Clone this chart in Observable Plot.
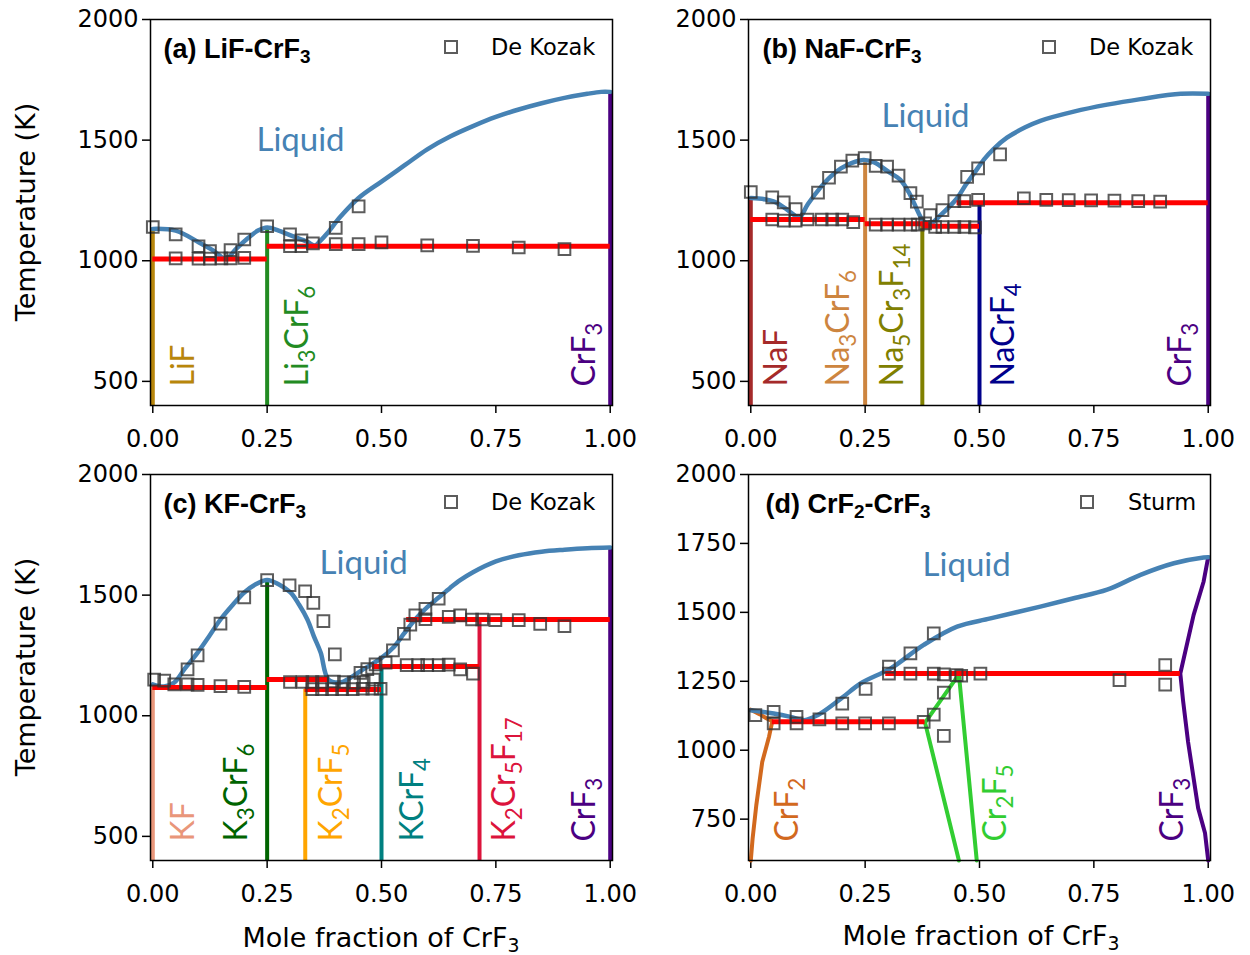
<!DOCTYPE html>
<html><head><meta charset="utf-8">
<script src="https://cdn.jsdelivr.net/npm/d3@7"></script>
<script src="https://cdn.jsdelivr.net/npm/@observablehq/plot@0.6"></script>
<style>
body{margin:0;background:#fff;}
#wrap{position:relative;width:1250px;height:955px;overflow:hidden;background:#fff;}
.panel{position:absolute;}
.panel svg{overflow:visible;background:transparent;}
.axlab{position:absolute;font-family:"DejaVu Sans";font-size:27px;color:#000;white-space:nowrap;transform:translate(-50%,-50%);}
.axlab.rot{transform:translate(-50%,-50%) rotate(-90deg);}
.axlab sub{font-size:70%;vertical-align:-0.3em;line-height:0;}
g[aria-label="x-axis tick"] path, g[aria-label="y-axis tick"] path{stroke-width:1.5;}
</style></head><body><div id="wrap"></div>
<script>
// ---------- shared ticks ----------
const xTicks = [0, 0.25, 0.5, 0.75, 1];
const yTicksABC = [500, 1000, 1500, 2000];
const yTicksD = [750, 1000, 1250, 1500, 1750, 2000];

// ---------- (a) LiF-CrF3 ----------
const liqA = [[0,1132],[0.05,1125],[0.1,1077],[0.13,1045],[0.16,1008],[0.18,1045],[0.207,1092],[0.23,1125],[0.25,1138],[0.275,1125],[0.3,1106],[0.338,1078],[0.355,1063],[0.365,1080],[0.381,1113],[0.41,1182],[0.45,1260],[0.5,1328],[0.55,1395],[0.6,1462],[0.65,1515],[0.7,1558],[0.75,1596],[0.8,1627],[0.85,1653],[0.9,1675],[0.95,1692],[0.98,1700],[1,1700]];
const solA = [[0,0.25,1007],[0.25,1,1060]];
const compNamesA = ["LiF","Li_3CrF_6","CrF_3"];
const compXA = [0, 0.25, 1];
const compTopA = [1132, 1138, 1700];
const expA = [[0,1140],[0.05,1109],[0.1,1060],[0.125,1040],[0.17,1044],[0.2,1088],[0.25,1143],[0.3,1109],[0.325,1085],[0.35,1072],[0.4,1136],[0.45,1225],
  [0.05,1010],[0.1,1009],[0.125,1009],[0.15,1010],[0.17,1010],[0.2,1012],[0.3,1060],[0.325,1060],[0.4,1069],[0.45,1069],[0.5,1076],[0.6,1064],[0.7,1062],[0.8,1055],[0.9,1048]];

// ---------- (b) NaF-CrF3 ----------
const liqB = [[0,1260],[0.03,1255],[0.051,1245],[0.075,1218],[0.095,1189],[0.105,1176],[0.125,1235],[0.153,1305],[0.175,1350],[0.197,1383],[0.22,1405],[0.247,1418],[0.27,1408],[0.3,1370],[0.327,1335],[0.345,1285],[0.357,1238],[0.378,1162],[0.39,1150],[0.415,1189],[0.451,1259],[0.47,1315],[0.488,1362],[0.51,1420],[0.53,1462],[0.56,1510],[0.6,1553],[0.633,1580],[0.706,1618],[0.779,1647],[0.852,1670],[0.94,1692],[1,1692]];
const solB = [[0,0.25,1171],[0.25,0.39,1153],[0.375,0.5,1143],[0.451,1,1240]];
const compNamesB = ["NaF","Na_3CrF_6","Na_5Cr_3F_14","NaCrF_4","CrF_3"];
const compXB = [0, 0.25, 0.375, 0.5, 1];
const compTopB = [1260, 1418, 1150, 1240, 1692];
const expB = [[0,1285],[0.047,1263],[0.072,1242],[0.098,1214],[0.147,1282],[0.171,1344],[0.197,1390],[0.222,1415],[0.249,1425],[0.273,1393],[0.298,1390],[0.323,1353],[0.349,1280],[0.363,1245],[0.392,1189],[0.419,1210],[0.445,1247],[0.467,1247],[0.473,1348],[0.497,1383],[0.497,1252],[0.545,1441],
  [0.047,1171],[0.072,1166],[0.098,1166],[0.124,1171],[0.155,1171],[0.178,1171],[0.2,1171],[0.224,1160],[0.273,1150],[0.298,1150],[0.323,1150],[0.349,1150],[0.365,1150],[0.381,1155],[0.403,1140],[0.419,1140],[0.445,1140],[0.467,1140],[0.49,1138],
  [0.597,1259],[0.646,1252],[0.695,1251],[0.744,1250],[0.795,1249],[0.847,1247],[0.895,1245]];

// ---------- (c) KF-CrF3 ----------
const liqC = [[0,1130],[0.025,1121],[0.047,1138],[0.07,1195],[0.098,1262],[0.125,1335],[0.148,1399],[0.175,1460],[0.2,1511],[0.225,1545],[0.25,1563],[0.275,1545],[0.301,1511],[0.32,1460],[0.338,1399],[0.352,1330],[0.367,1262],[0.384,1150],[0.41,1138],[0.43,1155],[0.454,1185],[0.48,1215],[0.5,1240],[0.527,1285],[0.549,1340],[0.574,1400],[0.6,1450],[0.625,1490],[0.65,1530],[0.672,1562],[0.7,1595],[0.75,1640],[0.8,1665],[0.85,1680],[0.9,1688],[0.95,1694],[1,1697]];
const solC = [[0,0.25,1117],[0.25,0.384,1150],[0.333,0.5,1109],[0.48,0.714,1204],[0.555,1,1399]];
const compNamesC = ["KF","K_3CrF_6","K_2CrF_5","KCrF_4","K_2Cr_5F_17","CrF_3"];
const compXC = [0, 0.25, 0.3333, 0.5, 0.7143, 1];
const compTopC = [1130, 1563, 1109, 1204, 1399, 1697];
const expC = [[0.003,1150],[0.025,1146],[0.047,1130],[0.076,1192],[0.076,1130],[0.098,1250],[0.098,1128],[0.148,1382],[0.148,1123],[0.2,1491],[0.2,1120],[0.25,1562],[0.299,1541],[0.333,1516],[0.351,1468],[0.373,1392],[0.398,1254],
  [0.3,1140],[0.327,1140],[0.349,1140],[0.37,1140],[0.396,1142],[0.418,1140],[0.44,1137],[0.461,1140],[0.483,1150],
  [0.349,1110],[0.37,1110],[0.392,1110],[0.414,1110],[0.437,1110],[0.459,1112],[0.48,1112],[0.498,1112],
  [0.454,1178],[0.469,1193],[0.487,1213],[0.509,1220],[0.525,1271],[0.549,1340],[0.555,1210],[0.563,1378],[0.574,1416],[0.58,1210],[0.596,1443],[0.596,1400],[0.6,1210],[0.625,1485],[0.625,1210],[0.647,1410],[0.647,1212],[0.672,1416],[0.672,1192],[0.698,1399],[0.7,1175],[0.72,1399],[0.749,1396],[0.8,1396],[0.847,1381],[0.9,1371]];

// ---------- (d) CrF2-CrF3 ----------
const liqD = [[0,1145],[0.05,1133],[0.087,1121],[0.117,1109],[0.146,1127],[0.197,1187],[0.24,1242],[0.306,1297],[0.378,1382],[0.451,1448],[0.524,1478],[0.633,1521],[0.706,1551],[0.779,1582],[0.852,1636],[0.925,1678],[0.99,1699],[1,1700]];
const solD = [[0.047,0.381,1103],[0.295,0.939,1278]];
const compNamesD = ["CrF_2","Cr_2F_5","CrF_3"];
const crf2D = [[0,1147],[0.02,1130],[0.035,1115],[0.047,1105],[0.04,1050],[0.025,957],[0.012,800],[0.004,680],[0,600]];
const cr2f5D = [[0.455,600],[0.381,1100],[0.455,1275],[0.494,600]];
const crf3D = [[1,600],[0.993,700],[0.978,790],[0.956,1030],[0.945,1180],[0.939,1278],[0.968,1490],[0.99,1612],[1,1700]];
const compXD = [0, 0.494, 1];
const expD = [[0.01,1127],[0.05,1139],[0.05,1097],[0.1,1121],[0.1,1097],[0.15,1112],[0.2,1169],[0.2,1097],[0.251,1222],[0.25,1097],[0.302,1097],[0.302,1303],[0.302,1278],[0.349,1351],[0.349,1278],[0.378,1103],[0.4,1424],[0.4,1278],[0.4,1129],[0.422,1209],[0.422,1275],[0.422,1052],[0.45,1272],[0.46,1270],[0.502,1278],[0.806,1254],[0.906,1309],[0.906,1238]];

// ---------- styles / annotation placement ----------
const BLUE = "#4682b4", RED = "#ff0000";
const colorsA = ["#b8860b","#228b22","#4b0082"];
const colorsB = ["#a52a2a","#cd853f","#808000","#00008b","#4b0082"];
const colorsC = ["#e9967a","#006400","#ffa500","#008080","#dc143c","#4b0082"];
const colorsD = ["#d2691e","#32cd32","#4b0082"];
const labelDxA = [41, 41, -15];
const labelDxB = [36, -16, -19, 34, -17];
const labelDxC = [41, -20, 37, 41, 35, -15];
const labelDxD = [47, 29, -25];
const liquidPos = {a:[0.323,1500], b:[0.382,1598], c:[0.461,1631], d:[0.472,1670]};

const svgNS = "http://www.w3.org/2000/svg";
function subscriptify(root) {
  root.querySelectorAll("text").forEach(t => {
    if (t.querySelector("tspan")) return;
    const s = t.textContent;
    if (!s.includes("_")) return;
    const fs = parseFloat(getComputedStyle(t).fontSize);
    const shift = 0.22 * fs;
    const parts = s.split(/_(\d+)/);
    t.textContent = "";
    let down = false;
    parts.forEach((p, i) => {
      if (!p) return;
      const ts = document.createElementNS(svgNS, "tspan");
      ts.textContent = p;
      if (i % 2) { ts.setAttribute("font-size", (fs * 0.7).toFixed(1)); if (!down) { ts.setAttribute("dy", shift); down = true; } }
      else if (down) { ts.setAttribute("dy", -shift); down = false; }
      t.appendChild(ts);
    });
  });
}

function legendMark(name, dxSq, dxText) {
  return (index, scales, values, dims) => {
    const g = document.createElementNS(svgNS, "g");
    const xr = dims.width - dims.marginRight, yt = dims.marginTop;
    const r = document.createElementNS(svgNS, "rect");
    r.setAttribute("x", xr + dxSq - 6); r.setAttribute("y", yt + 28 - 6);
    r.setAttribute("width", 12); r.setAttribute("height", 12);
    r.setAttribute("fill", "none"); r.setAttribute("stroke", "#333"); r.setAttribute("stroke-opacity", 0.8); r.setAttribute("stroke-width", 2);
    g.appendChild(r);
    const t = document.createElementNS(svgNS, "text");
    t.setAttribute("x", xr + dxText); t.setAttribute("y", yt + 36);
    t.setAttribute("text-anchor", "start");
    t.setAttribute("font-family", "DejaVu Sans"); t.setAttribute("font-size", 22.5); t.setAttribute("fill", "#000");
    t.textContent = name;
    g.appendChild(t);
    return g;
  };
}

function panel(cfg) {
  const fb = cfg.yDomain[0];
  const P = d => d[0], T = d => d[1];
  const marks = [
    Plot.axisX(xTicks, {tickFormat: d3.format(".2f"), tickSize: 8, tickPadding: 16, fontSize: 24, label: null}),
    Plot.axisY(cfg.yTicks, {tickFormat: d3.format("d"), tickSize: 8, tickPadding: 4, fontSize: 24, label: null})
  ];
  if (cfg.compTop) {
    cfg.compX.forEach((x, i) => {
      marks.push(Plot.ruleX([i], {x: j => cfg.compX[j], y1: fb, y2: j => cfg.compTop[j], stroke: cfg.colors[i], strokeWidth: 4}));
    });
  }
  (cfg.curves || []).forEach((c, i) => {
    marks.push(Plot.line(c, {x: P, y: T, stroke: cfg.colors[i], strokeWidth: 4}));
  });
  marks.push(Plot.line(cfg.liq, {x: P, y: T, stroke: BLUE, strokeWidth: 4.5, curve: "catmull-rom"}));
  marks.push(Plot.ruleY(cfg.sol, {y: d => d[2], x1: d => d[0], x2: d => d[1], stroke: RED, strokeWidth: 5}));
  marks.push(Plot.dot(cfg.exp, {x: P, y: T, symbol: "square", r: 6.6, stroke: "#333", strokeOpacity: 0.8, strokeWidth: 2, fill: "none"}));
  marks.push(Plot.frame({stroke: "black", strokeWidth: 1.5}));
  marks.push(Plot.text([cfg.liquid], {x: P, y: T, text: () => "Liquid", fill: BLUE, fontSize: 33, fontFamily: "Lato"}));
  cfg.names.forEach((n, i) => {
    marks.push(Plot.text([i], {x: j => cfg.compX[j], frameAnchor: "bottom", text: j => cfg.names[j], rotate: -90, textAnchor: "start", lineAnchor: "bottom", dx: cfg.labelDx[i], dy: -19, fill: cfg.colors[i], fontSize: 32, fontFamily: "Lato"}));
  });
  marks.push(Plot.text([cfg.title], {frameAnchor: "top-left", text: d => d, dx: cfg.titleDx, dy: 38, lineAnchor: "bottom", textAnchor: "start", fontWeight: "bold", fontSize: 27, fontFamily: "Liberation Sans", fill: "#000"}));
  marks.push(legendMark(cfg.legend[0], cfg.legend[1], cfg.legend[2]));
  const svg = Plot.plot({
    width: 625, height: cfg.height,
    marginTop: 19, marginBottom: cfg.height - 19 - 386, marginLeft: cfg.ml, marginRight: cfg.mr,
    x: {domain: [-0.005, 1.005]},
    y: {domain: cfg.yDomain},
    style: {fontFamily: "DejaVu Sans", background: "transparent", color: "black"},
    marks
  });
  const div = document.createElement("div");
  div.className = "panel";
  div.style.left = cfg.left + "px"; div.style.top = cfg.top + "px";
  div.appendChild(svg);
  document.getElementById("wrap").appendChild(div);
  subscriptify(svg);
}

panel({left: 0, top: 0, height: 455, ml: 150, mr: 13, yDomain: [400, 2000], yTicks: yTicksABC,
  liq: liqA, sol: solA, exp: expA, names: compNamesA, compX: compXA, compTop: compTopA, colors: colorsA, labelDx: labelDxA,
  liquid: liquidPos.a, title: "(a) LiF-CrF_3", titleDx: 13, legend: ["De Kozak", -161, -121]});
panel({left: 625, top: 0, height: 455, ml: 123, mr: 40, yDomain: [400, 2000], yTicks: yTicksABC,
  liq: liqB, sol: solB, exp: expB, names: compNamesB, compX: compXB, compTop: compTopB, colors: colorsB, labelDx: labelDxB,
  liquid: liquidPos.b, title: "(b) NaF-CrF_3", titleDx: 14, legend: ["De Kozak", -161, -121]});
panel({left: 0, top: 455, height: 500, ml: 150, mr: 13, yDomain: [400, 2000], yTicks: yTicksABC,
  liq: liqC, sol: solC, exp: expC, names: compNamesC, compX: compXC, compTop: compTopC, colors: colorsC, labelDx: labelDxC,
  liquid: liquidPos.c, title: "(c) KF-CrF_3", titleDx: 13, legend: ["De Kozak", -161, -121]});
panel({left: 625, top: 455, height: 500, ml: 123, mr: 40, yDomain: [600, 2000], yTicks: yTicksD,
  liq: liqD, sol: solD, exp: expD, names: compNamesD, compX: compXD, curves: [crf2D, cr2f5D, crf3D], colors: colorsD, labelDx: labelDxD,
  liquid: liquidPos.d, title: "(d) CrF_2-CrF_3", titleDx: 17, legend: ["Sturm", -123, -82]});

// axis titles
const wrap = document.getElementById("wrap");
function axlab(html, x, y, rot) {
  const d = document.createElement("div");
  d.className = "axlab" + (rot ? " rot" : "");
  d.style.left = x + "px"; d.style.top = y + "px";
  d.innerHTML = html;
  wrap.appendChild(d);
}
axlab("Temperature (K)", 25, 212, true);
axlab("Temperature (K)", 25, 667, true);
axlab("Mole fraction of CrF<sub>3</sub>", 381, 937, false);
axlab("Mole fraction of CrF<sub>3</sub>", 981, 935, false);
</script>
</body></html>
